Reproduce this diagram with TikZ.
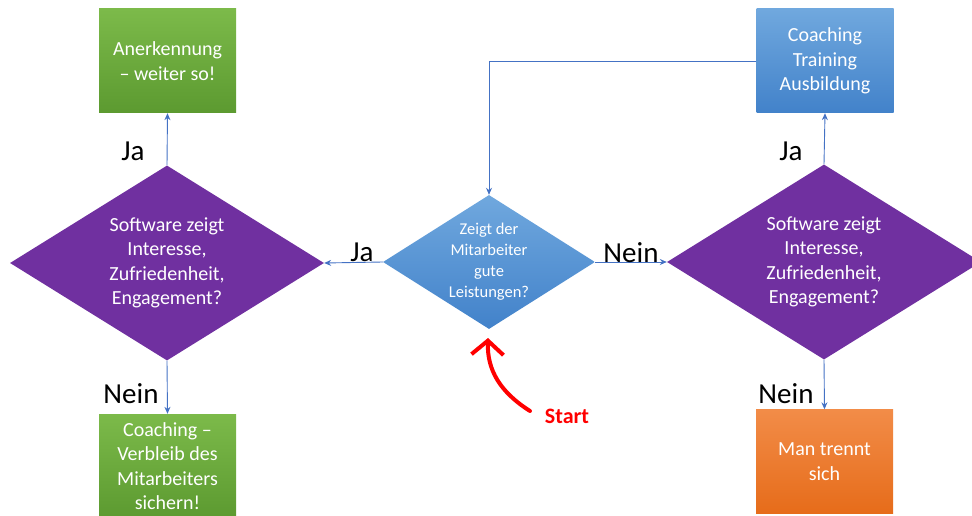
\documentclass[tikz,border=0pt]{standalone}
\usepackage{fontspec}
\setmainfont{Carlito}
\usetikzlibrary{shapes.geometric,arrows.meta}

\definecolor{greenTop}{RGB}{124,186,74}
\definecolor{greenBot}{RGB}{92,154,48}
\definecolor{blueTop}{RGB}{112,168,222}
\definecolor{blueBot}{RGB}{66,130,202}
\definecolor{orangeTop}{RGB}{242,140,72}
\definecolor{orangeBot}{RGB}{230,108,26}
\definecolor{violet}{RGB}{112,48,160}
\definecolor{lineblue}{RGB}{68,114,196}
\definecolor{startred}{RGB}{255,0,0}

\begin{document}
\begin{tikzpicture}[x=1pt,y=-1pt,
  box/.style={rectangle, draw=none, minimum width=137pt, minimum height=104pt,
    inner sep=0pt, text=white, align=center, font=\fontsize{20}{24.5}\selectfont},
  greenbox/.style={box, top color=greenTop, bottom color=greenBot},
  bluebox/.style={box, top color=blueTop, bottom color=blueBot},
  orangebox/.style={box, top color=orangeTop, bottom color=orangeBot},
  decision/.style={diamond, draw=none, inner sep=0pt, aspect=1.6,
    text=white, align=center},
  bigdecision/.style={decision, fill=violet, minimum width=314pt, minimum height=195pt,
    font=\fontsize{20}{24.5}\selectfont},
  conn/.style={draw=lineblue, line width=0.9pt, -{Stealth[length=7pt,width=6pt]}},
  answer/.style={font=\fontsize{29}{34}\selectfont, text=black, inner sep=0pt}
]
\useasboundingbox (0,0) rectangle (972,516);

% central question
\node[decision, top color=blueTop, bottom color=blueBot,
      minimum width=212pt, minimum height=134pt,
      font=\fontsize{16.5}{21}\selectfont] (q) at (489,262)
  {Zeigt der\\Mitarbeiter\\gute\\Leistungen?};

% follow-up questions
\node[bigdecision] (l) at (167,263)
  {Software zeigt\\Interesse,\\Zufriedenheit,\\Engagement?};
\node[bigdecision] (r) at (824,262)
  {Software zeigt\\Interesse,\\Zufriedenheit,\\Engagement?};

% outcomes
\node[greenbox] (lt) at (167.5,61) {Anerkennung\\– weiter so!};
\node[greenbox] (lb) at (167.5,466) {Coaching –\\Verbleib des\\Mitarbeiters\\sichern!};
\node[bluebox] (rt) at (825,61) {Coaching\\Training\\Ausbildung};
\node[orangebox] (rb) at (824.5,461.5) {Man trennt\\sich};

% connectors
\draw[conn] (q.west) -- (l.east);
\draw[conn] (q.east) -- (r.west);
\draw[conn] (l.north) -- (lt.south);
\draw[conn] (l.south) -- (lb.north);
\draw[conn] (r.north) -- (rt.south);
\draw[conn] (r.south) -- (rb.north);
\draw[conn] (rt.west) -| (q.north);

% answer labels
\node[answer] (ja1) at (362,252) {Ja};
\node[answer] (nein1) at (631,253) {Nein};
\node[answer] (ja2) at (133,151) {Ja};
\node[answer] (nein2) at (131,394) {Nein};
\node[answer] (ja3) at (791,151) {Ja};
\node[answer] (nein3) at (786,394) {Nein};

% start marker
\node[text=startred, font=\bfseries\fontsize{22}{26}\selectfont, inner sep=0pt]
  (start) at (567,416) {Start};
\coordinate (tail) at (530,411);
\coordinate (tip) at (488,338);
\draw[startred, line width=4pt, line cap=round,
      -{Straight Barb[length=14pt,width=32pt,line width=4pt]}]
  (tail) .. controls (500,392) and (487,370) .. (tip);
\end{tikzpicture}
\end{document}
